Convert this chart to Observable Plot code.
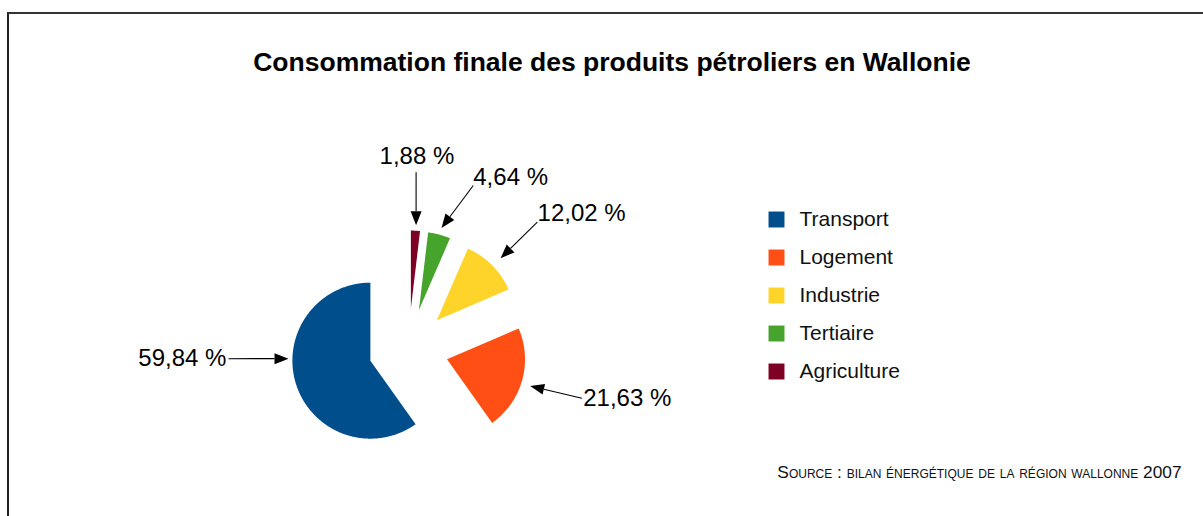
<!DOCTYPE html>
<html><head><meta charset="utf-8">
<script src="https://cdn.jsdelivr.net/npm/d3@7"></script>
<script src="https://cdn.jsdelivr.net/npm/@observablehq/plot@0.6"></script>
<style>
body{margin:0;background:#fff;font-family:"Liberation Sans",Arial,Helvetica,sans-serif;}
#wrap{position:relative;width:1203px;height:516px;overflow:hidden;}
#wrap svg{position:absolute;left:0;top:0;}
#border{position:absolute;left:7px;top:12px;right:-10px;bottom:-10px;border-top:2px solid #333;border-left:2px solid #222;pointer-events:none;}
</style></head><body><div id="wrap"></div>
<script>
// ---- data ----
const categories = ["Transport", "Logement", "Industrie", "Tertiaire", "Agriculture"];
const shares = [59.84, 21.63, 12.02, 4.64, 1.88];
const shareLabels = ["59,84 %", "21,63 %", "12,02 %", "4,64 %", "1,88 %"];
const colors = ["#004e8c", "#ff4f14", "#ffd42a", "#46a32c", "#7f0025"];
const titleText = "Consommation finale des produits pétroliers en Wallonie";
const sourceText = "Source : bilan énergétique de la région wallonne 2007";

// ---- layout (pie radius = 1 unit) ----
const K = 78, CX = 408, CY = 348, W = 1203, H = 516;
const px2x = p => (p - CX) / K, px2y = p => (CY - p) / K;
const explode = 40 / K;
const pieOrder = [4, 3, 2, 1, 0]; // clockwise from 12 o'clock
const tipAngle = [271.4, 107.8, 45.8, 15.4, 3.6];
const tipR = [1.05, 1.12, 1.14, 1.09, 1.07];
const tailAngle = [270.8, 106.1, 45.7, 23.6, 2.2];
const tailR = [1.82, 1.80, 1.80, 1.74, 1.75];
const labelAnchor = ["end", "start", "start", "start", "middle"];
const labelShift = [[-2, 0], [1.3, 0], [0.3, -8.7], [0, -8.5], [0.8, -15.7]];
const legendXpx = 776, legendTextXpx = 799, legendY0px = 219, legendStep = 38;

const rad = d => d * Math.PI / 180;
const arcs = d3.pie().sort(null).value(i => shares[i])(pieOrder);

const slices = [], apex = {};
for (const a of arcs) {
  const i = a.data, m = (a.startAngle + a.endAngle) / 2;
  const ox = explode * Math.sin(m), oy = explode * Math.cos(m);
  apex[i] = [ox, oy];
  slices.push({cat: categories[i], x: ox, y: oy});
  const n = Math.max(2, Math.ceil((a.endAngle - a.startAngle) / rad(0.5)));
  for (let k = 0; k <= n; k++) {
    const t = a.startAngle + (a.endAngle - a.startAngle) * k / n;
    slices.push({cat: categories[i], x: ox + Math.sin(t), y: oy + Math.cos(t)});
  }
}

const links = [], heads = [], labels = [];
const hl = 14 / K, hw = 5.5 / K;
categories.forEach((c, i) => {
  const [ax, ay] = apex[i];
  const T = [ax + tipR[i] * Math.sin(rad(tipAngle[i])), ay + tipR[i] * Math.cos(rad(tipAngle[i]))];
  const S = [ax + tailR[i] * Math.sin(rad(tailAngle[i])), ay + tailR[i] * Math.cos(rad(tailAngle[i]))];
  const L = Math.hypot(T[0] - S[0], T[1] - S[1]);
  const u = [(T[0] - S[0]) / L, (T[1] - S[1]) / L], nrm = [-u[1], u[0]];
  const B = [T[0] - u[0] * hl, T[1] - u[1] * hl];
  links.push({x1: S[0], y1: S[1], x2: B[0], y2: B[1]});
  heads.push({id: c, x: T[0], y: T[1]},
             {id: c, x: B[0] + nrm[0] * hw, y: B[1] + nrm[1] * hw},
             {id: c, x: B[0] - nrm[0] * hw, y: B[1] - nrm[1] * hw});
  labels.push({text: shareLabels[i], anchor: labelAnchor[i],
               x: S[0] + labelShift[i][0] / K, y: S[1] - labelShift[i][1] / K});
});

const legend = categories.map((c, i) => ({cat: c, x: px2x(legendXpx), tx: px2x(legendTextXpx), y: px2y(legendY0px + i * legendStep)}));

const labelMarks = ["start", "middle", "end"].map(anc =>
  Plot.text(labels.filter(d => d.anchor === anc), {x: "x", y: "y", text: "text", textAnchor: anc, lineAnchor: "middle", fontSize: 24, fill: "#000"}));

const chart = Plot.plot({
  width: W, height: H, margin: 0,
  style: {fontFamily: '"Liberation Sans", Arial, Helvetica, sans-serif', background: "transparent"},
  x: {domain: [px2x(0), px2x(W)], axis: null},
  y: {domain: [px2y(H), px2y(0)], axis: null},
  color: {domain: categories, range: colors},
  marks: [
    Plot.line(slices, {x: "x", y: "y", z: "cat", fill: "cat", stroke: null, curve: "linear-closed"}),
    Plot.link(links, {x1: "x1", y1: "y1", x2: "x2", y2: "y2", stroke: "#000", strokeWidth: 1.1}),
    Plot.line(heads, {x: "x", y: "y", z: "id", fill: "#000", stroke: null, curve: "linear-closed"}),
    ...labelMarks,
    Plot.dot(legend, {x: "x", y: "y", fill: "cat", symbol: "square", r: 9, stroke: null}),
    Plot.text(legend, {x: "tx", y: "y", text: "cat", textAnchor: "start", lineAnchor: "middle", fontSize: 21, fill: "#111"}),
    Plot.text([titleText], {frameAnchor: "top", text: d => d, dx: 10, dy: 62, lineAnchor: "middle", fontSize: 26.5, fontWeight: "bold", fill: "#000"}),
    Plot.text([sourceText], {frameAnchor: "bottom-right", text: d => d, dx: -22, dy: -39, textAnchor: "end", lineAnchor: "bottom", fontSize: 17.3, fontVariant: "small-caps", fill: "#111"})
  ]
});
const wrap = document.getElementById("wrap");
wrap.appendChild(chart);
const b = document.createElement("div"); b.id = "border"; wrap.appendChild(b);
</script></body></html>
